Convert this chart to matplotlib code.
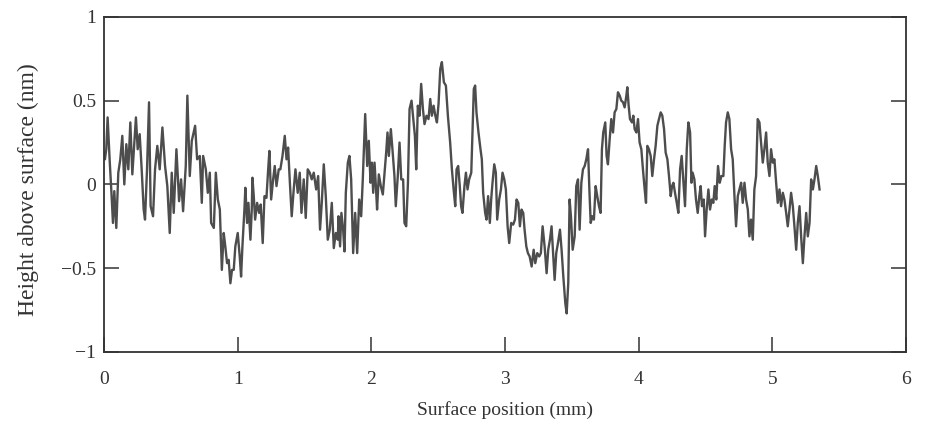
import matplotlib
matplotlib.use("Agg")
from matplotlib import pyplot as plt

# surface profile
position_mm = [0.000, 0.005, 0.015, 0.025, 0.040, 0.055, 0.065, 0.075, 0.090, 0.105,
               0.120, 0.135, 0.150, 0.165, 0.180, 0.195, 0.210, 0.225, 0.237, 0.250,
               0.265, 0.280, 0.295, 0.305, 0.320, 0.335, 0.347, 0.365, 0.380, 0.397,
               0.415, 0.435, 0.455, 0.472, 0.490, 0.505, 0.520, 0.540, 0.560, 0.575,
               0.590, 0.610, 0.622, 0.640, 0.655, 0.680, 0.695, 0.715, 0.730, 0.740,
               0.760, 0.775, 0.790, 0.800, 0.820, 0.835, 0.850, 0.865, 0.880,
               0.894, 0.906, 0.919, 0.931, 0.944, 0.956, 0.969, 0.981, 0.999, 1.014,
               1.024, 1.034, 1.049, 1.056, 1.069, 1.079, 1.094, 1.104, 1.109, 1.119,
               1.129, 1.144, 1.159, 1.171, 1.186, 1.199, 1.214, 1.226, 1.236, 1.249,
               1.264, 1.276, 1.289, 1.306, 1.318, 1.334, 1.351, 1.364, 1.376, 1.388,
               1.403, 1.418, 1.431, 1.448, 1.463, 1.476, 1.493, 1.508, 1.523, 1.538,
               1.553, 1.568, 1.586, 1.601, 1.615, 1.628, 1.643, 1.658, 1.673, 1.688,
               1.703, 1.718, 1.733, 1.748,
               1.753, 1.765, 1.775, 1.788, 1.798, 1.808, 1.823, 1.835, 1.848, 1.863,
               1.878, 1.893, 1.908, 1.923, 1.935, 1.953, 1.968, 1.980, 1.993, 2.003,
               2.013, 2.023, 2.033, 2.042, 2.055, 2.070, 2.085, 2.098, 2.110, 2.120,
               2.130, 2.145, 2.157, 2.172, 2.182, 2.197, 2.210, 2.223, 2.237, 2.247,
               2.260, 2.273, 2.285, 2.300, 2.313, 2.325, 2.335, 2.347, 2.360, 2.372,
               2.385, 2.397, 2.412, 2.427, 2.440, 2.452, 2.465, 2.478, 2.490, 2.502,
               2.515, 2.527, 2.542, 2.557, 2.572, 2.589, 2.602, 2.615, 2.627,
               2.637, 2.649, 2.661, 2.671, 2.681, 2.696, 2.707, 2.719, 2.731, 2.747,
               2.756, 2.766, 2.776, 2.786, 2.801, 2.816, 2.826, 2.836, 2.851, 2.861,
               2.873, 2.886, 2.896, 2.906, 2.919, 2.931, 2.941, 2.956, 2.969, 2.981,
               2.994, 3.006, 3.019, 3.031, 3.046, 3.061, 3.074, 3.086, 3.099, 3.111,
               3.123, 3.136, 3.146, 3.159, 3.171, 3.184, 3.199, 3.214, 3.226, 3.241,
               3.256, 3.268, 3.281, 3.296, 3.311, 3.323, 3.336, 3.348, 3.361, 3.371,
               3.383, 3.396, 3.411, 3.423, 3.436, 3.451, 3.461, 3.473, 3.483, 3.493,
               3.506,
               3.521, 3.533, 3.546, 3.558, 3.571, 3.583, 3.596, 3.608, 3.621, 3.631,
               3.641, 3.653, 3.665, 3.678, 3.690, 3.703, 3.715, 3.725, 3.735, 3.750,
               3.760, 3.770, 3.783, 3.795, 3.808, 3.820, 3.833, 3.845, 3.858, 3.870,
               3.883, 3.895, 3.908, 3.915, 3.925, 3.935, 3.950, 3.960, 3.970, 3.983,
               3.995, 4.007, 4.020, 4.032, 4.045, 4.055, 4.065, 4.077, 4.090, 4.102,
               4.115, 4.127, 4.140, 4.152, 4.165, 4.177, 4.190, 4.202, 4.215, 4.227,
               4.240, 4.250, 4.260, 4.272, 4.285, 4.297, 4.310, 4.322, 4.335, 4.347,
               4.360, 4.372, 4.385, 4.395,
               4.404, 4.417, 4.429, 4.442, 4.454, 4.464, 4.474, 4.487, 4.497, 4.509,
               4.522, 4.534, 4.547, 4.559, 4.569, 4.581, 4.594, 4.607, 4.619, 4.634,
               4.644, 4.654, 4.667, 4.679, 4.692, 4.704, 4.717, 4.729, 4.742, 4.754,
               4.767, 4.779, 4.792, 4.804, 4.817, 4.829, 4.841, 4.854, 4.866, 4.879,
               4.891, 4.904, 4.916, 4.929, 4.941, 4.954, 4.966, 4.979, 4.991, 5.004,
               5.016, 5.029, 5.041, 5.054, 5.066, 5.079, 5.091, 5.104, 5.116, 5.129,
               5.141, 5.154, 5.166, 5.179, 5.191, 5.204, 5.216, 5.229, 5.241, 5.254,
               5.266, 5.279, 5.291, 5.304, 5.316, 5.329, 5.341, 5.354]

height_nm = [0.19, 0.15, 0.21, 0.40, 0.15, -0.07, -0.23, -0.04, -0.26, 0.07,
             0.15, 0.29, 0.00, 0.24, 0.09, 0.37, 0.06, 0.25, 0.40, 0.21,
             0.30, 0.09, -0.15, -0.21, 0.09, 0.49, -0.13, -0.19, 0.09, 0.23,
             0.09, 0.34, 0.11, -0.01, -0.29, 0.07, -0.17, 0.21, -0.10, 0.03,
             -0.16, 0.11, 0.53, 0.05, 0.26, 0.35, 0.15, 0.17, -0.11, 0.17,
             0.09, -0.05, 0.07, -0.23, -0.26, 0.07, -0.09, -0.15, -0.51,
             -0.29, -0.37, -0.47, -0.45, -0.59, -0.51, -0.51, -0.37, -0.29, -0.43,
             -0.55, -0.37, -0.15, -0.02, -0.23, -0.11, -0.33, -0.15, 0.04, -0.07,
             -0.21, -0.11, -0.17, -0.12, -0.35, -0.07, -0.08, 0.08, 0.20, -0.09,
             0.03, 0.11, -0.01, 0.09, 0.09, 0.17, 0.29, 0.15, 0.22, 0.03,
             -0.19, -0.03, 0.09, -0.05, 0.07, -0.17, 0.03, -0.20, 0.09, 0.07,
             0.03, 0.07, -0.03, 0.05, -0.27, -0.11, 0.12, -0.07, -0.33, -0.27,
             -0.11, -0.38, -0.29, -0.33,
             -0.19, -0.37, -0.17, -0.27, -0.40, -0.05, 0.13, 0.17, 0.03, -0.41,
             -0.17, -0.41, -0.09, -0.19, 0.03, 0.42, 0.11, 0.26, 0.01, 0.13,
             -0.05, 0.13, -0.01, -0.15, 0.06, -0.01, -0.06, 0.07, 0.19, 0.31,
             0.17, 0.33, 0.21, 0.05, -0.13, 0.05, 0.25, 0.03, 0.03, -0.23,
             -0.25, 0.01, 0.45, 0.50, 0.39, 0.29, 0.09, 0.47, 0.41, 0.60,
             0.45, 0.36, 0.41, 0.39, 0.51, 0.41, 0.47, 0.41, 0.37, 0.48,
             0.69, 0.73, 0.61, 0.59, 0.41, 0.25, 0.09, -0.03, -0.13,
             0.09, 0.11, -0.01, -0.13, -0.17, -0.01, 0.07, -0.03, 0.03, 0.07,
             0.31, 0.57, 0.59, 0.43, 0.31, 0.21, 0.15, -0.05, -0.17, -0.21,
             -0.07, -0.23, -0.09, 0.01, 0.12, 0.07, -0.21, -0.09, -0.03, 0.07,
             0.03, -0.03, -0.25, -0.35, -0.23, -0.24, -0.21, -0.09, -0.11, -0.25,
             -0.15, -0.17, -0.27, -0.37, -0.41, -0.43, -0.49, -0.39, -0.47, -0.41,
             -0.43, -0.41, -0.25, -0.37, -0.53, -0.39, -0.33, -0.25, -0.43, -0.57,
             -0.41, -0.35, -0.27, -0.39, -0.55, -0.71, -0.77, -0.59, -0.09, -0.19,
             -0.39,
             -0.31, -0.01, 0.03, -0.27, 0.01, 0.09, 0.11, 0.15, 0.21, -0.03,
             -0.23, -0.19, -0.21, -0.01, -0.07, -0.13, -0.17, 0.21, 0.31, 0.37,
             0.17, 0.12, 0.27, 0.39, 0.31, 0.43, 0.45, 0.55, 0.53, 0.50,
             0.49, 0.46, 0.53, 0.58, 0.47, 0.39, 0.37, 0.41, 0.33, 0.31,
             0.39, 0.25, 0.21, 0.09, -0.03, -0.11, 0.23, 0.21, 0.17, 0.05,
             0.15, 0.23, 0.35, 0.39, 0.43, 0.41, 0.33, 0.19, 0.15, 0.05,
             -0.07, -0.01, 0.01, -0.05, -0.11, -0.17, 0.09, 0.17, 0.01, -0.13,
             0.21, 0.37, 0.31, 0.01,
             0.07, 0.03, -0.09, -0.17, -0.07, -0.01, -0.13, -0.09, -0.31, -0.15,
             -0.03, -0.15, -0.09, -0.11, -0.01, -0.09, 0.11, 0.01, 0.05, 0.05,
             0.23, 0.37, 0.43, 0.39, 0.21, 0.15, -0.07, -0.25, -0.07, -0.03,
             0.01, -0.11, 0.01, -0.09, -0.15, -0.31, -0.21, -0.33, -0.03, 0.05,
             0.39, 0.37, 0.25, 0.13, 0.21, 0.31, 0.13, 0.05, 0.21, 0.13,
             0.15, 0.01, -0.11, -0.03, -0.13, -0.05, -0.09, -0.17, -0.25, -0.15,
             -0.05, -0.13, -0.25, -0.39, -0.23, -0.13, -0.31, -0.47, -0.31, -0.17,
             -0.31, -0.23, 0.03, -0.03, 0.03, 0.11, 0.05, -0.03]

x_ticks = [0, 1, 2, 3, 4, 5, 6]
y_ticks = [-1, -0.5, 0, 0.5, 1]
y_tick_labels = ['\u22121', '\u22120.5', '0', '0.5', '1']

plt.rcParams['font.family'] = ['Liberation Serif', 'DejaVu Serif']

fig = plt.figure(figsize=(9.31, 4.22), dpi=100)
ax = fig.add_axes([0.112, 0.166, 0.861, 0.794])

ax.plot(position_mm, height_nm, color='#4d4d4d', linewidth=1.7)

ax.set_xlim(0, 6)
ax.set_ylim(-1, 1)
ax.set_xticks(x_ticks)
ax.set_yticks(y_ticks)
ax.set_yticklabels(y_tick_labels)
ax.tick_params(direction='in', length=11, width=1.1, colors='#333333',
               labelsize=14, labelcolor='#333333')
ax.tick_params(axis='x', pad=14)
ax.tick_params(axis='y', pad=6, right=True)
for s in ax.spines.values():
    s.set_linewidth(1.3)
    s.set_color('#333333')

ax.set_xlabel('Surface position (mm)', fontsize=14, color='#333333', labelpad=9)
fig.text(0.030, 0.55, 'Height above surface (nm)', rotation=90,
         ha='center', va='center', fontsize=17, color='#333333')

fig.savefig('out.png', dpi=100)
